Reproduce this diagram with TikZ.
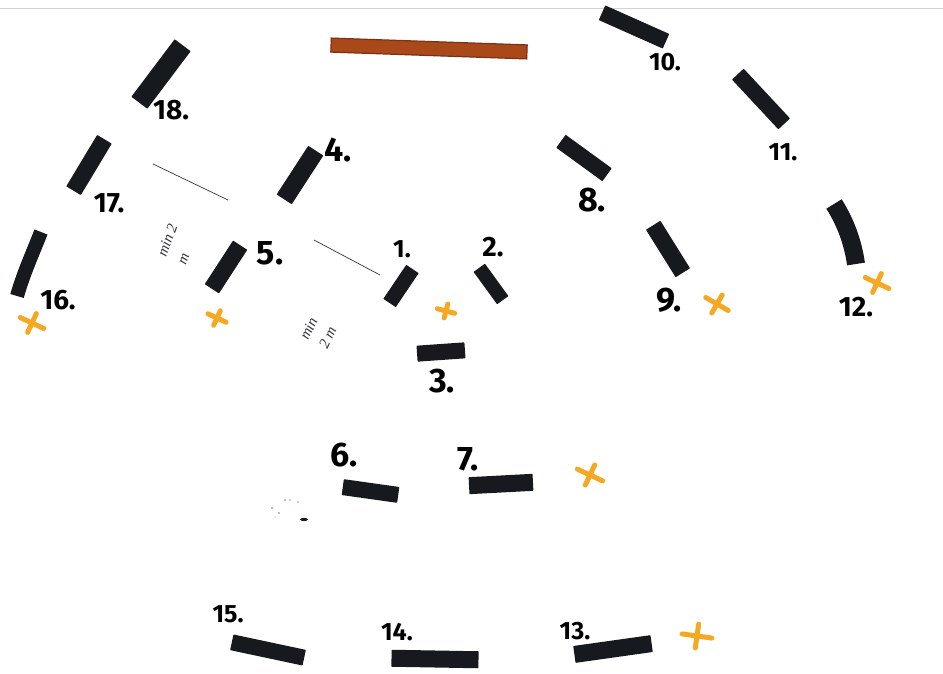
\documentclass[tikz,border=0pt]{standalone}
\usepackage{fontspec}
\setmainfont{Fira Sans}
\newfontfamily\handfont{Liberation Serif}
\definecolor{barink}{HTML}{16191D}
\definecolor{brownfill}{HTML}{A9491A}
\definecolor{brownedge}{HTML}{7E2F16}
\definecolor{crossink}{HTML}{F5A922}
\definecolor{hairline}{HTML}{D2D2D2}
\definecolor{penink}{HTML}{34343E}
\tikzset{
  x=1pt,y=-1pt,
  barshape/.style={fill=barink,draw=none,inner sep=0pt,rounded corners=0.6pt},
  numlabel/.style={font=\fontsize{34}{34}\selectfont\bfseries,text=black,inner sep=0pt},
  smalllabel/.style={font=\fontsize{28}{28}\selectfont\bfseries,text=black,inner sep=0pt},
  tinylabel/.style={font=\fontsize{25}{25}\selectfont\bfseries,text=black,inner sep=0pt},
  handnote/.style={font=\fontsize{15}{21}\selectfont\handfont\itshape,text=penink,inner sep=0pt,align=left},
  thinline/.style={draw=penink,line width=0.7pt},
  curvedbar/.style={draw=barink,line cap=butt},
  pics/ocross/.style n args={2}{code={
    \draw[draw=crossink,line width=5pt,line cap=round,rotate=#1] (-#2,0) -- (#2,0);
    \draw[draw=crossink,line width=5pt,line cap=round,rotate=#1] (0,-0.8*#2) -- (0,0.8*#2);
  }},
}
\newcommand{\barat}[6]{\node[barshape,minimum width=#4pt,minimum height=#5pt,rotate=#6] (#1) at (#2,#3) {};}
\begin{document}
\begin{tikzpicture}
\useasboundingbox (0,0) rectangle (943,674);
\fill[white] (0,0) rectangle (943,674);
% top edge of the scan
\coordinate (edgeL) at (0,8.5);
\coordinate (edgeR) at (943,8.5);
\draw[hairline,line width=0.9pt] (edgeL) -- (edgeR);
% bars
\barat{b18}{161}{74}{72}{20}{53}
\barat{b17}{89}{165}{60}{17}{59}
\barat{b4}{300}{175}{58}{18}{57}
\barat{b5}{226}{267}{52}{17}{57}
\barat{b1}{401}{286}{41}{15}{56}
\barat{b2}{491}{284}{40}{14}{-54}
\barat{b3}{441}{352}{48}{16}{4}
\barat{b6}{370.5}{491}{56}{16}{-8}
\barat{b7}{501}{484}{64}{17}{3}
\barat{b8}{584}{158}{57}{16}{-36}
\barat{b9}{668}{249}{56}{17}{-58}
\barat{b10}{634}{27}{70}{16}{-24}
\barat{b11}{761}{99}{68}{16}{-47}
\barat{b13}{613}{649}{78}{17}{8}
\barat{b14}{435}{659}{87}{17}{-1}
\barat{b15}{268}{650}{74}{16}{-12}
% curved bars
\coordinate (c16a) at (17,296);
\coordinate (c16b) at (41,232);
\draw[curvedbar,line width=14pt] (c16a) .. controls (24,272) and (32,255) .. (c16b);
\coordinate (c12a) at (856,264);
\coordinate (c12b) at (834,204);
\draw[curvedbar,line width=18pt] (c12a) .. controls (853,243) and (846,223) .. (c12b);
% brown bar
\node[fill=brownfill,draw=brownedge,line width=1.2pt,inner sep=0pt,minimum width=196pt,minimum height=14pt,rotate=-2] (brown) at (429,48.5) {};
% labels
\node[smalllabel] (n18) at (171,110) {18.};
\node[smalllabel] (n17) at (109,203) {17.};
\node[smalllabel] (n16) at (58,300) {16.};
\node[numlabel] (n5) at (270,253) {5.};
\node[numlabel] (n4) at (338,150) {4.};
\node[tinylabel] (n1) at (402,249) {1.};
\node[smalllabel] (n2) at (493,247) {2.};
\node[numlabel] (n3) at (442,381) {3.};
\node[numlabel] (n8) at (592,200) {8.};
\node[numlabel] (n9) at (669,300) {9.};
\node[tinylabel] (n10) at (665,62) {10.};
\node[tinylabel] (n11) at (783,152) {11.};
\node[smalllabel] (n12) at (856,307) {12.};
\node[numlabel] (n6) at (344,455) {6.};
\node[numlabel] (n7) at (468,459) {7.};
\node[tinylabel] (n13) at (575,631) {13.};
\node[tinylabel] (n14) at (397,632) {14.};
\node[tinylabel] (n15) at (228,614) {15.};
% crosses
\pic at (32,323) {ocross={-25}{13}};
\pic at (217,318) {ocross={-25}{10}};
\pic at (446,311) {ocross={-15}{9}};
\pic at (717,304) {ocross={-30}{13}};
\pic at (877,283) {ocross={-25}{13}};
\pic at (590,475) {ocross={-25}{14}};
\pic at (697,636) {ocross={-8}{15}};
% thin measuring lines
\coordinate (m1a) at (153,164);
\coordinate (m1b) at (228,200);
\coordinate (m2a) at (314,240);
\coordinate (m2b) at (380,275);
\draw[thinline] (m1a) -- (m1b);
\draw[thinline] (m2a) -- (m2b);
% handwritten notes
\node[handnote,rotate=70] (h1) at (177,244) {min 2\\m};
\node[handnote,rotate=65] (h3) at (318,333) {min\\2 m};
% specks
\fill[barink] (304,519.5) ellipse (4 and 1.6);
\fill[brownedge!70] (272,508) circle (0.9);
\fill[gray] (279,513) circle (0.9);
\fill[gray!80] (285,500) circle (1);
\fill[brownedge!50] (290,500) circle (0.8);
\fill[brownedge!50] (298,502) circle (0.8);
\fill[gray!60] (275,517) circle (0.7);
\end{tikzpicture}
\end{document}
